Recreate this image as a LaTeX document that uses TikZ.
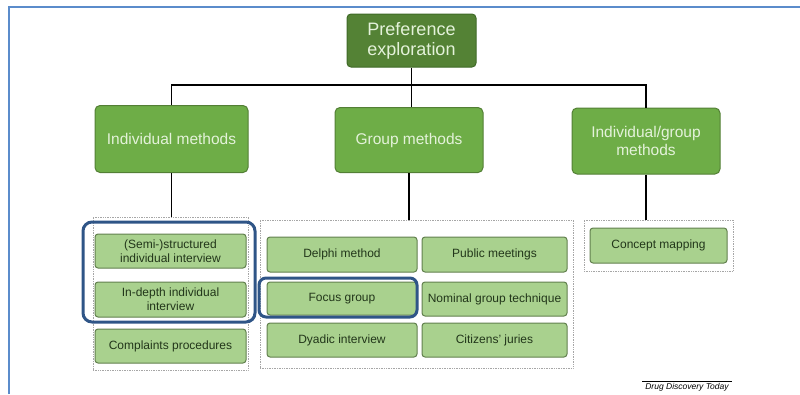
\documentclass[tikz,border=0pt]{standalone}
\usepackage{fontspec}
\setmainfont{Liberation Sans}
\usetikzlibrary{positioning}
\definecolor{topfill}{HTML}{548235}
\definecolor{topline}{HTML}{3F6A27}
\definecolor{midfill}{HTML}{6EAD47}
\definecolor{midline}{HTML}{537F35}
\definecolor{leaffill}{HTML}{A9D18E}
\definecolor{leafline}{HTML}{62804E}
\definecolor{paletext}{HTML}{E4F2DA}
\definecolor{leaftext}{HTML}{22361A}
\definecolor{hilite}{HTML}{2F5587}
\definecolor{frameblue}{HTML}{5B8CCB}
\tikzset{
  topbox/.style={draw=topline, fill=topfill, line width=1pt, rounded corners=4pt,
    text=paletext, align=center, inner sep=0pt,
    font=\fontsize{18}{20}\selectfont},
  midbox/.style={draw=midline, fill=midfill, line width=1pt, rounded corners=5pt,
    text=paletext, align=center, inner sep=0pt,
    font=\fontsize{15.5}{18}\selectfont},
  leafbox/.style={draw=leafline, fill=leaffill, line width=1pt, rounded corners=3pt,
    text=leaftext, align=center, inner sep=0pt,
    font=\fontsize{12}{14}\selectfont},
  groupframe/.style={draw=gray!70, densely dotted, line width=0.7pt, inner sep=0pt},
  highlight/.style={draw=hilite, line width=3pt, rounded corners=9pt},
  link/.style={draw=black, line width=1.3pt},
}
\begin{document}
\begin{tikzpicture}[x=1pt, y=-1pt]
  \useasboundingbox (0,0) rectangle (800,394);
  % outer frame edges
  \draw[frameblue, line width=2pt] (9,394) -- (9,7) -- (800,7);

  % top level
  \node[topbox, minimum width=129pt, minimum height=53pt] (top) at (411.5,40.5)
    {Preference\\exploration};

  % second level
  \node[midbox, minimum width=153pt, minimum height=67pt] (ind) at (171.5,139) {Individual methods};
  \node[midbox, minimum width=148pt, minimum height=65pt] (grp) at (409,140) {Group methods};
  \node[midbox, minimum width=148pt, minimum height=66pt] (ig) at (646,141) {Individual/group\\methods};

  % dotted containers
  \node[groupframe, minimum width=155pt, minimum height=153pt] (cL) at (170.5,293.5) {};
  \node[groupframe, minimum width=313pt, minimum height=148pt] (cM) at (416.5,294) {};
  \node[groupframe, minimum width=149pt, minimum height=51pt] (cR) at (658.5,245.5) {};

  % tree connectors
  \coordinate (bus) at (411.5,85);
  \draw[link] (top.south) -- (bus);
  \draw[link] (ind.north) |- (bus) -| (ig.north);
  \draw[link] (bus) -- (bus |- grp.north);
  \draw[link] (ind.south) -- (ind.south |- cL.north);
  \draw[link] (grp.south) -- (grp.south |- cM.north);
  \draw[link] (ig.south) -- (ig.south |- cR.north);

  % individual methods
  \node[leafbox, minimum width=151pt, minimum height=34pt] (semi) at (170.5,251) {(Semi-)structured\\individual interview};
  \node[leafbox, minimum width=151pt, minimum height=35pt] (deep) at (170.5,299.5) {In-depth individual\\interview};
  \node[leafbox, minimum width=151pt, minimum height=34pt] (compl) at (170.5,346) {Complaints procedures};

  % group methods
  \node[leafbox, minimum width=150pt, minimum height=35pt] (delphi) at (342,254.5) {Delphi method};
  \node[leafbox, minimum width=145pt, minimum height=35pt] (public) at (494.5,254.5) {Public meetings};
  \node[leafbox, minimum width=150pt, minimum height=33pt] (focus) at (342,298.5) {Focus group};
  \node[leafbox, minimum width=145pt, minimum height=34pt] (nominal) at (494.5,299) {Nominal group technique};
  \node[leafbox, minimum width=150pt, minimum height=34pt] (dyadic) at (342,340) {Dyadic interview};
  \node[leafbox, minimum width=145pt, minimum height=34pt] (juries) at (494.5,340) {Citizens’ juries};

  % individual/group methods
  \node[leafbox, minimum width=137pt, minimum height=35pt] (concept) at (658.5,245.5) {Concept mapping};

  % highlighted selections
  \draw[highlight] (83,222) rectangle (255,322);
  \draw[highlight, rounded corners=7pt] (259,278) rectangle (417,317);

  % source line
  \node[font=\fontsize{8.5}{10}\selectfont\itshape, inner sep=0pt] (src) at (687,387.5) {Drug Discovery Today};
  \draw[line width=0.5pt] (642,381) -- (732,381);
\end{tikzpicture}
\end{document}
